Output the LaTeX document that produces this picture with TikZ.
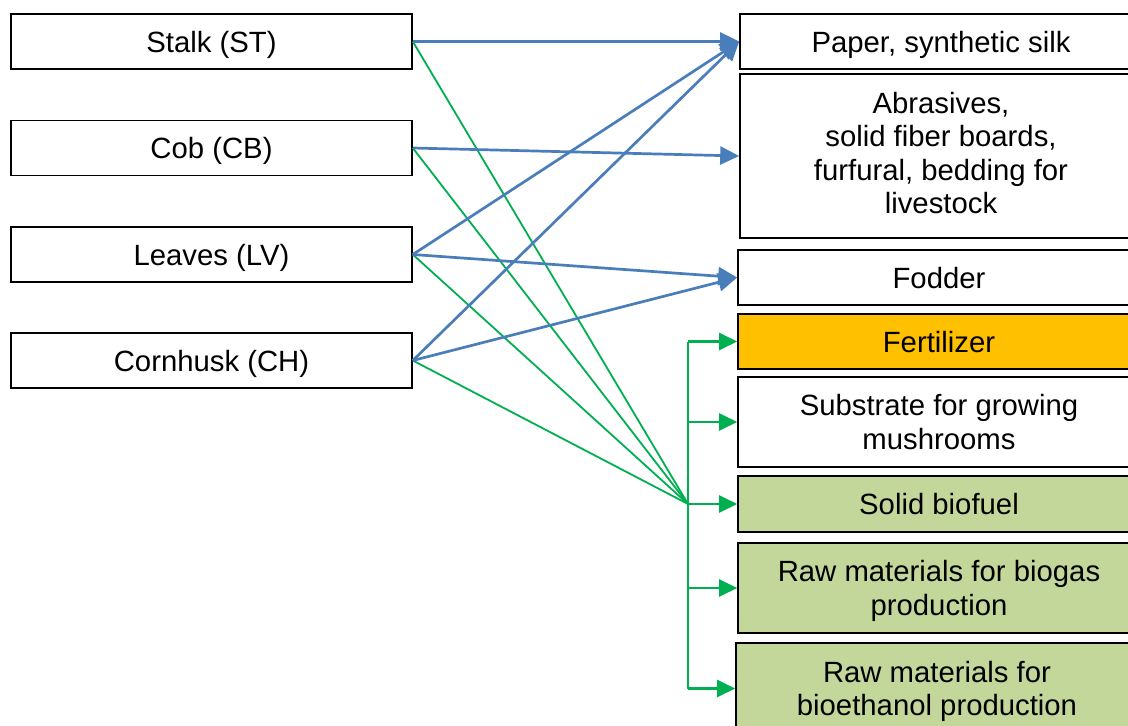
\documentclass[tikz,border=0pt]{standalone}
\usepackage{fontspec}
\setmainfont{Liberation Sans}
\usetikzlibrary{arrows.meta}
\definecolor{lnblue}{HTML}{4A7EBB}
\definecolor{lngreen}{HTML}{00B050}
\definecolor{fillorange}{HTML}{FFC000}
\definecolor{fillgreen}{HTML}{C4D79B}
\newcommand\dfont{\fontsize{29.3}{33.3}\selectfont}
\tikzset{
  box/.style={draw=black, line width=1.6pt, inner sep=0pt, align=center, font=\dfont, minimum width=401pt, text depth=0pt},
  srcbox/.style={box, minimum height=55pt},
  bluearrow/.style={draw=lnblue, line width=2.7pt, -{Triangle[length=19pt,width=18pt]}},
  greenline/.style={draw=lngreen, line width=1.8pt},
  greenarrow/.style={draw=lngreen, line width=2.3pt, -{Triangle[length=18pt,width=17pt]}},
}
\begin{document}
\begin{tikzpicture}[x=1pt,y=-1pt]
\clip (0,0) rectangle (1128,726);
\fill[white] (0,0) rectangle (1128,726);
% sources
\node[srcbox] (st) at (211.5,41.5) {Stalk (ST)};
\node[srcbox] (cb) at (211.5,148) {Cob (CB)};
\node[srcbox] (lv) at (211.5,254.5) {Leaves (LV)};
\node[srcbox] (ch) at (211.5,360.5) {Cornhusk (CH)};
% products
\node[box, minimum width=402pt, minimum height=55pt] (paper) at (941,41.5) {Paper, synthetic silk};
\node[box, minimum width=402pt, minimum height=164pt, text depth=6pt] (abr) at (941,156) {Abrasives,\\solid fiber boards,\\furfural, bedding for\\livestock};
\node[box, minimum width=402pt, minimum height=55pt] (fod) at (939,277.5) {Fodder};
\node[box, minimum width=402pt, minimum height=55pt, fill=fillorange] (fert) at (939,341.5) {Fertilizer};
\node[box, minimum width=402pt, minimum height=90pt] (sub) at (939,422) {Substrate for growing\\mushrooms};
\node[box, minimum width=402pt, minimum height=56pt, fill=fillgreen] (sbf) at (939,504) {Solid biofuel};
\node[box, minimum width=402pt, minimum height=90pt, fill=fillgreen] (bgas) at (939,588) {Raw materials for biogas\\production};
\node[box, minimum width=402pt, minimum height=91pt, fill=fillgreen] (beth) at (937,688.5) {Raw materials for\\bioethanol production};
% green hub
\coordinate (hub) at (688,504);
\draw[greenline] (st.east) -- (hub);
\draw[greenline] (cb.east) -- (hub);
\draw[greenline] (lv.east) -- (hub);
\draw[greenline] (ch.east) -- (hub);
\draw[draw=lngreen, line width=2.3pt] (hub |- fert.west) -- (hub |- beth.west);
\draw[greenarrow] (hub |- fert.west) -- (fert.west);
\draw[greenarrow] (hub |- sub.west) -- (sub.west);
\draw[greenarrow] (hub) -- (sbf.west);
\draw[greenarrow] (hub |- bgas.west) -- (bgas.west);
\draw[greenarrow] (hub |- beth.west) -- (beth.west);
% blue arrows
\draw[bluearrow] (st.east) -- (paper.west);
\draw[bluearrow] (cb.east) -- (abr.west);
\draw[bluearrow] (lv.east) -- (paper.west);
\draw[bluearrow] (lv.east) -- (fod.west);
\draw[bluearrow] (ch.east) -- (paper.west);
\draw[bluearrow] (ch.east) -- (fod.west);
\end{tikzpicture}
\end{document}
